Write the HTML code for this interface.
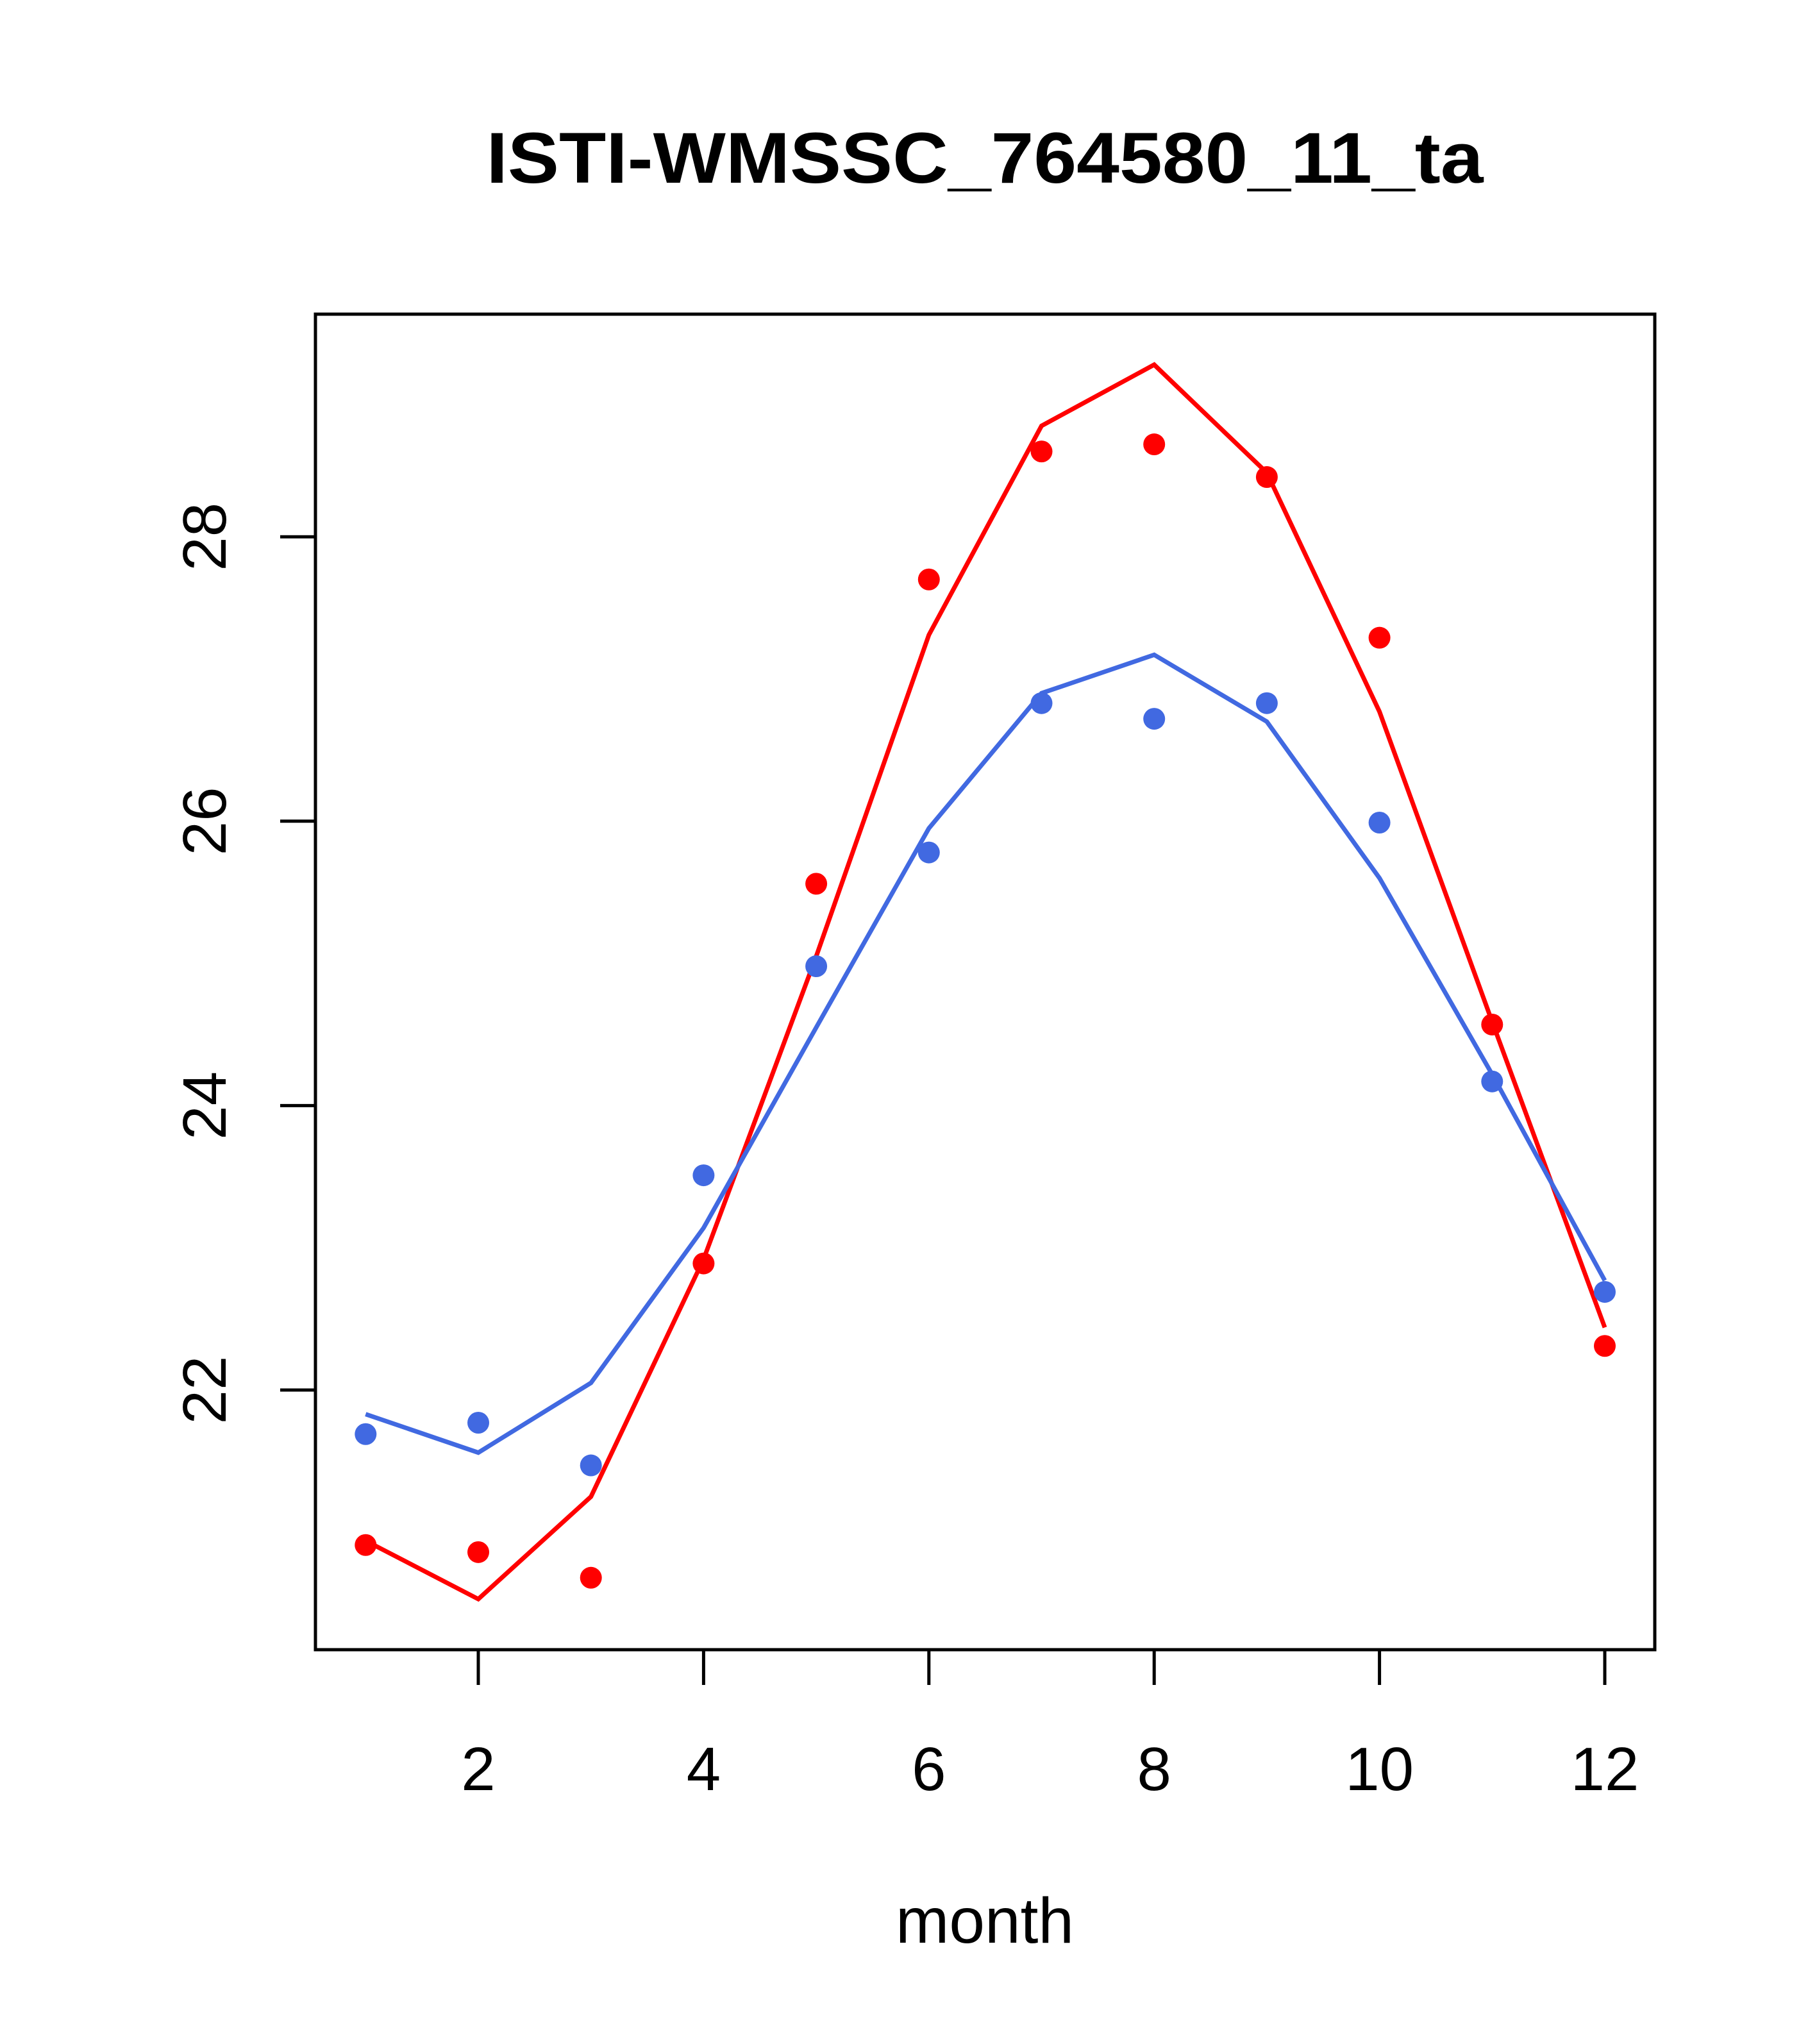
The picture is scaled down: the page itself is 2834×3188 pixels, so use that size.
<!DOCTYPE html>
<html><head><meta charset="utf-8"><style>html,body{margin:0;padding:0;background:#fff}svg{display:block}</style></head>
<body>
<svg id="chart" width="2834" height="3188" viewBox="0 0 2834 3188" xmlns="http://www.w3.org/2000/svg" font-family="'Liberation Sans', sans-serif">
<rect width="2834" height="3188" fill="#fff"/>
<text x="1536" y="285" text-anchor="middle" font-size="112" font-weight="bold" textLength="1555" lengthAdjust="spacingAndGlyphs">ISTI-WMSSC_764580_11_ta</text>
<rect x="492" y="490" width="2089" height="2083" fill="none" stroke="#000" stroke-width="5"/>
<g id="axes"></g>
<g id="series"></g>
<text x="1536" y="3030" text-anchor="middle" font-size="100">month</text>
</svg>
<script>
const months = [1,2,3,4,5,6,7,8,9,10,11,12];
const redLine = [20.94,20.53,21.25,22.92,25.05,27.31,28.78,29.21,28.45,26.77,24.59,22.44];
const redPoints = [20.91,20.86,20.68,22.89,25.56,27.70,28.60,28.65,28.42,27.29,24.57,22.31];
const blueLine = [21.83,21.56,22.05,23.14,24.55,25.95,26.90,27.17,26.70,25.60,24.22,22.77];
const bluePoints = [21.69,21.77,21.47,23.51,24.98,25.78,26.83,26.72,26.83,25.99,24.17,22.69];
const xTicks = [2,4,6,8,10,12];
const yTicks = [22,24,26,28];

const NS = "http://www.w3.org/2000/svg";
function xs(m){ return 746 + (m-2)*175.7; }
function ys(v){ return 2168 - (v-22)*221.8; }
const axes = document.getElementById('axes');
const series = document.getElementById('series');
function mk(tag, attrs, parent){ const e=document.createElementNS(NS,tag); for(const k in attrs) e.setAttribute(k,attrs[k]); parent.appendChild(e); return e; }

xTicks.forEach(t=>{
  const l = mk('line',{x1:xs(t),x2:xs(t),y1:2573,y2:2628,stroke:'#000','stroke-width':5},axes);
  
  
  const tx = mk('text',{x:xs(t),y:2792,'text-anchor':'middle','font-size':96},axes);
  tx.textContent = t;
  
  
});
yTicks.forEach(t=>{
  const l = mk('line',{x1:437,x2:492,y1:ys(t),y2:ys(t),stroke:'#000','stroke-width':5},axes);
  
  
  const tx = mk('text',{x:0,y:0,'text-anchor':'middle','font-size':96,transform:`translate(352,${ys(t)}) rotate(-90)`},axes);
  tx.textContent = t;
  
  
});

function drawLine(vals, color, name){
  const p = mk('polyline',{points:vals.map((v,i)=>xs(months[i])+','+ys(v)).join(' '),fill:'none',stroke:color,'stroke-width':7},series);
  
  
}
function drawPts(vals, color, name){
  vals.forEach((v,i)=>{
    const c = mk('circle',{cx:xs(months[i]),cy:ys(v),r:17,fill:color},series);
    
    
  });
}
drawLine(redLine,'#ff0000','red-line');
drawLine(blueLine,'#4169e1','blue-line');
drawPts(redPoints,'#ff0000','red-point');
drawPts(bluePoints,'#4169e1','blue-point');
</script>
</body></html>
